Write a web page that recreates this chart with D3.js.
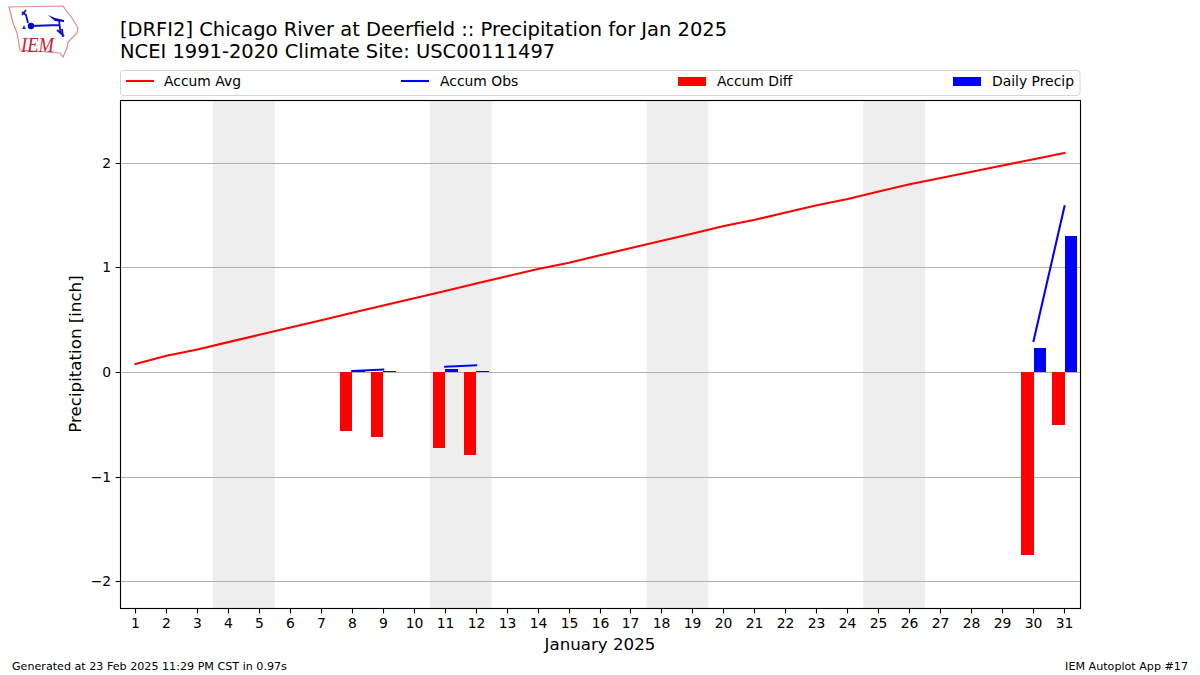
<!DOCTYPE html>
<html><head><meta charset="utf-8">
<script src="https://cdn.jsdelivr.net/npm/d3@7"></script>
<style>html,body{margin:0;padding:0;background:#fff}svg{display:block}text{font-family:"DejaVu Sans",sans-serif;fill:#000}</style>
</head><body><svg id="c" width="1200" height="675"></svg>
<script>
const days = d3.range(1, 32);
const accumAvg = [0.08,0.16,0.22,0.29,0.36,0.43,0.50,0.57,0.64,0.71,0.78,0.85,0.92,0.99,1.05,1.12,1.19,1.26,1.33,1.40,1.46,1.53,1.60,1.66,1.73,1.80,1.86,1.92,1.98,2.04,2.10];
const obsSegments = [
  [{d:8,v:0.014},{d:9,v:0.027}],
  [{d:11,v:0.055},{d:12,v:0.068}],
  [{d:30,v:0.30},{d:31,v:1.59}]
];
const accumDiff = [{d:8,v:-0.56},{d:9,v:-0.62},{d:11,v:-0.72},{d:12,v:-0.79},{d:30,v:-1.75},{d:31,v:-0.50}];
const dailyPrecip = [{d:8,v:0.01},{d:9,v:0.01},{d:11,v:0.03},{d:12,v:0.01},{d:30,v:0.23},{d:31,v:1.305}];
const weekends = [[3.5,5.5],[10.5,12.5],[17.5,19.5],[24.5,26.5]];
const yTicks = [-2,-1,0,1,2];
const titleLines = ["[DRFI2] Chicago River at Deerfield :: Precipitation for Jan 2025","NCEI 1991-2020 Climate Site: USC00111497"];
const legendItems = [
  {label:"Accum Avg",color:"#ff0000",kind:"line"},
  {label:"Accum Obs",color:"#0000ff",kind:"line"},
  {label:"Accum Diff",color:"#ff0000",kind:"bar"},
  {label:"Daily Precip",color:"#0000ff",kind:"bar"}
];

const svg = d3.select("#c");
const L=120,R=1080,T=100,B=608;
const x = d3.scaleLinear().domain([0.5,31.5]).range([L,R]);
const y = d3.scaleLinear().domain([2.606,-2.253]).range([T,B]);
const barW = x(0.4)-x(0);
const snap = v => Math.floor(v)+0.5;
const rx = v => Math.round(v);

// logo
const logo = svg.append("g");
logo.append("path").attr("d","M9,7 L63,6 L68,13 L72,18 L78,28 L77,33 L68,42 L67,48 L63,57 L60,53 L20,50 L17,33 L13,23 Z")
  .attr("fill","none").attr("stroke","#e28a8a").attr("stroke-width",1.2);
logo.append("path").attr("d","M31,26 L59,25 M59,20 L60.5,33 M22,12 L26,15 L28,23 M22,15 L26,10 M57,30 L64,36 M62,29 L63,37")
  .attr("fill","none").attr("stroke","#1010d0").attr("stroke-width",1.8);
logo.append("circle").attr("cx",31).attr("cy",26).attr("r",3.2).attr("fill","#0000c8");
logo.append("path").attr("d","M48,15 L55,18 L64,20 L64,22 L55,21 Z").attr("fill","#0000c8");
logo.append("path").attr("d","M22,29 L24,25 L26,29 Z").attr("fill","#3030c0");
logo.append("text").attr("transform","translate(21,52) scale(1,1.15)").attr("font-size",18.5).style("font-family","'Liberation Serif',serif").style("font-style","italic").style("fill","#d02030").text("IEM");

// titles
svg.selectAll("text.title").data(titleLines).join("text").attr("class","title")
  .attr("x",120).attr("y",(d,i)=>36+i*21.5).attr("font-size",19.48).text(d=>d);

// legend
svg.append("rect").attr("x",120.5).attr("y",70.5).attr("width",959.5).attr("height",25).attr("rx",3)
  .attr("fill","#fff").attr("stroke","#d5d5d5");
const legendX = [126,401,678,953], legendTextX=[164,440,717,992];
legendItems.forEach((it,i)=>{
  if(it.kind==="line") svg.append("line").attr("x1",legendX[i]).attr("x2",legendX[i]+28).attr("y1",81).attr("y2",81).attr("stroke",it.color).attr("stroke-width",2.08);
  else svg.append("rect").attr("x",legendX[i]).attr("y",77).attr("width",28).attr("height",9).attr("fill",it.color);
  svg.append("text").attr("x",legendTextX[i]).attr("y",86).attr("font-size",13.9).text(it.label);
});

// plot
svg.append("g").selectAll("rect").data(weekends).join("rect")
  .attr("x",d=>x(d[0])).attr("width",d=>x(d[1])-x(d[0])).attr("y",T).attr("height",B-T).attr("fill","#eeeeee");
svg.append("g").selectAll("line").data(yTicks).join("line")
  .attr("x1",L).attr("x2",R).attr("y1",d=>snap(y(d))).attr("y2",d=>snap(y(d))).attr("stroke","#b0b0b0").attr("stroke-width",1.11);

const y0 = Math.floor(y(0));
svg.append("g").selectAll("rect").data(accumDiff).join("rect")
  .attr("x",d=>rx(x(d.d)-barW)).attr("width",d=>rx(x(d.d))-rx(x(d.d)-barW)).attr("y",y0).attr("height",d=>rx(y(d.v))-y0).attr("fill","#ff0000");
svg.append("g").selectAll("rect").data(dailyPrecip).join("rect")
  .attr("x",d=>rx(x(d.d))).attr("width",d=>rx(x(d.d)+barW)-rx(x(d.d))).attr("y",d=>rx(y(d.v))).attr("height",d=>y0-rx(y(d.v))).attr("fill","#0000ff");

const line = d3.line().x(d=>x(d.d)).y(d=>y(d.v));
svg.append("path").datum(days.map((d,i)=>({d,v:accumAvg[i]}))).attr("d",line).attr("fill","none").attr("stroke","#ff0000").attr("stroke-width",2.08).attr("stroke-linecap","square").attr("stroke-linejoin","round");
svg.append("g").selectAll("path").data(obsSegments).join("path").attr("d",line).attr("fill","none").attr("stroke","#0000ff").attr("stroke-width",2.08).attr("stroke-linecap","square");

// axes
const xAxis = svg.append("g").attr("transform",`translate(0,${B+0.5})`).call(d3.axisBottom(x).offset(0).tickValues(days).tickFormat(d3.format("d")).tickSize(4.9).tickPadding(4.5));
const yAxis = svg.append("g").attr("transform",`translate(${L+0.5},0)`).call(d3.axisLeft(y).offset(0).tickValues(yTicks).tickFormat(d=>d<0?"\u2212"+Math.abs(d):d).tickSize(4.9).tickPadding(4.5));
xAxis.selectAll(".tick").attr("transform",d=>`translate(${snap(x(d))},0)`);
yAxis.selectAll(".tick").attr("transform",d=>`translate(0,${snap(y(d))})`);
[xAxis,yAxis].forEach(a=>{a.select(".domain").remove();a.selectAll("line").attr("stroke","#000").attr("stroke-width",1.11);
  a.selectAll("text").attr("font-size",13.9).style("font-family","'DejaVu Sans'").attr("fill","#000");});
svg.append("rect").attr("x",L+0.5).attr("y",T+0.5).attr("width",R-L).attr("height",B-T).attr("fill","none").attr("stroke","#000").attr("stroke-width",1.11);

svg.append("text").attr("x",600).attr("y",650).attr("text-anchor","middle").attr("font-size",16.67).text("January 2025");
svg.append("text").attr("transform","translate(81,354) rotate(-90)").attr("text-anchor","middle").attr("font-size",16.67).text("Precipitation [inch]");
svg.append("text").attr("x",12).attr("y",670).attr("font-size",11.14).text("Generated at 23 Feb 2025 11:29 PM CST in 0.97s");
svg.append("text").attr("x",1188).attr("y",670).attr("text-anchor","end").attr("font-size",11.14).text("IEM Autoplot App #17");
</script></body></html>
